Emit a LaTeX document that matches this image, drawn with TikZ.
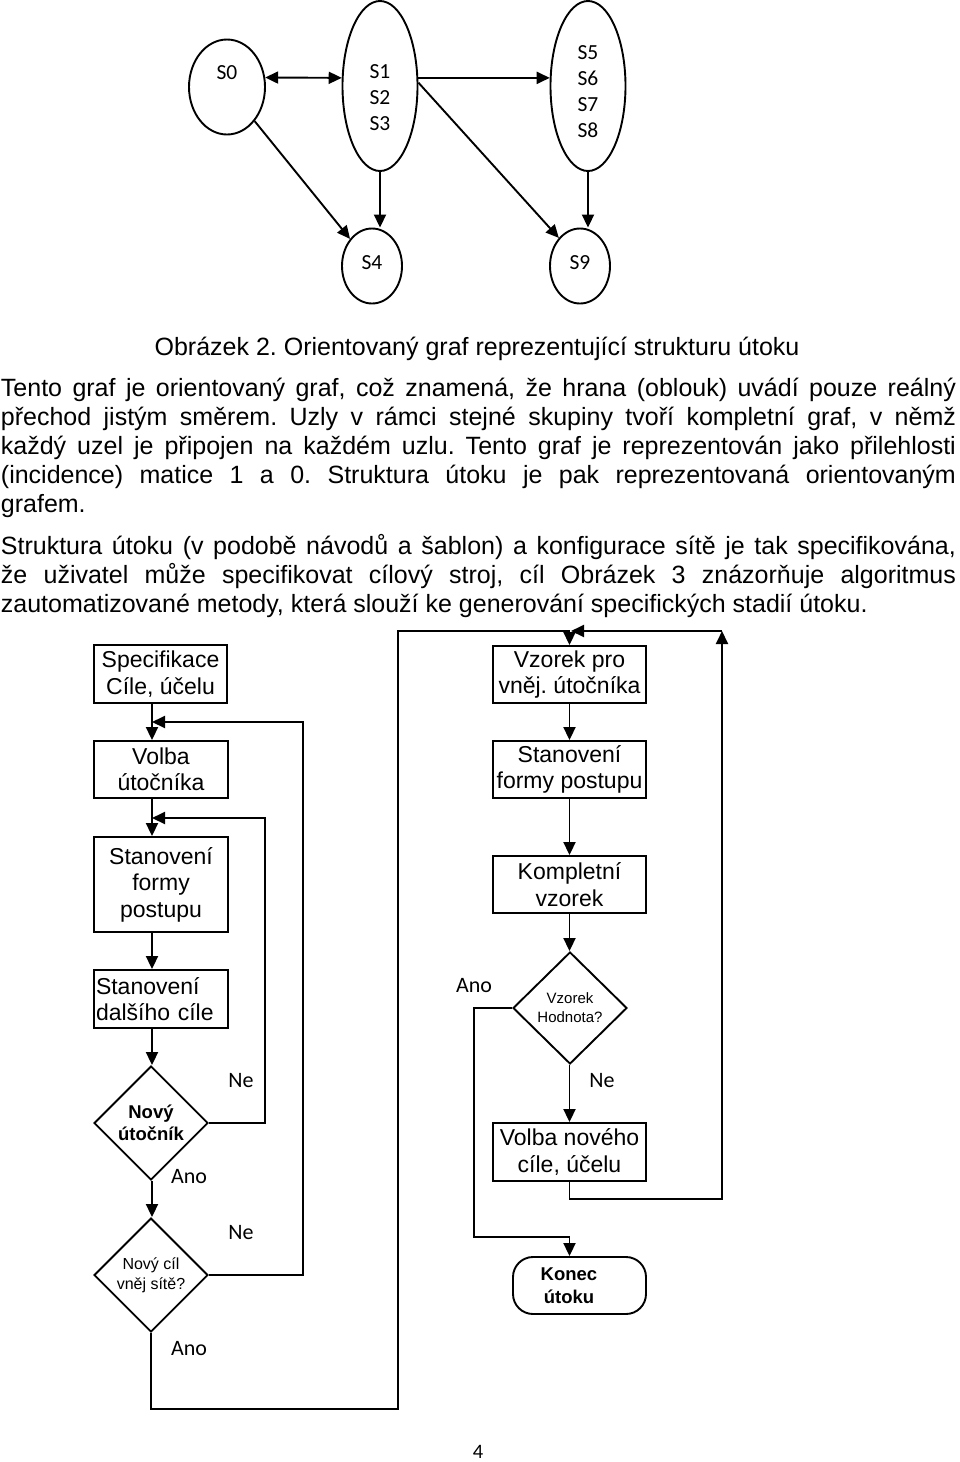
\documentclass[tikz,border=0pt]{standalone}
\usepackage{fontspec}
\setmainfont{Liberation Sans}
\newfontfamily\calib{Carlito}
\usetikzlibrary{arrows.meta,shapes.geometric}
\frenchspacing

\tikzset{
  state/.style={draw, ellipse, inner sep=0pt},
  glabel/.style={font=\calib\fontsize{21.5}{26}\selectfont, align=center, inner sep=0pt},
  box/.style={draw, rectangle, inner sep=2pt, align=center, font=\fontsize{23}{26.5}\selectfont},
  ask/.style={draw, diamond, inner sep=0pt, minimum width=114pt, minimum height=114pt, align=center},
  yesno/.style={font=\calib\fontsize{22}{26}\selectfont, inner sep=0pt},
  line/.style={font=\fontsize{25}{29}\selectfont, anchor=base west, inner sep=0pt}
}

\begin{document}
\begin{tikzpicture}[x=1pt, y=-1pt, line width=1.9pt, >={Triangle[length=13pt,width=12pt]}]
\useasboundingbox (0,0) rectangle (960,1462);

\node (s0) at (227,87) [state, minimum width=76pt, minimum height=95pt, label={[glabel, yshift=14pt]center:S0}] {};
\node (s1) at (380,86) [state, minimum width=75pt, minimum height=170pt, label={[glabel, yshift=-12pt]center:S1\\S2\\S3}] {};
\node (s5) at (588,86) [state, minimum width=75pt, minimum height=170pt, label={[glabel, yshift=-5.5pt]center:S5\\S6\\S7\\S8}] {};
\node (s4) at (372,266) [state, minimum width=60pt, minimum height=75pt, label={[glabel, yshift=3pt]center:S4}] {};
\node (s9) at (580,266) [state, minimum width=60pt, minimum height=75pt, label={[glabel, yshift=3pt]center:S9}] {};

\draw [<->] (s0.14) -- (s1.168);
\draw [->] (s1.12) -- (s5.168);
\draw [->] (s0) -- (s4);
\draw [->] (s1.south) -- (s1.south |- s4.north);
\draw [->] (s1.5) -- (s9.127);
\draw [->] (s5.south) -- (s5.south |- s9.north);

\node (cap) at (477,355) [anchor=base, inner sep=0pt, font=\fontsize{25}{29}\selectfont] {Obrázek 2. Orientovaný graf reprezentující strukturu útoku};

\node (t1) at (0,396) [line] {\makebox[955pt][s]{Tento graf je orientovaný graf, což znamená, že hrana (oblouk) uvádí pouze reálný}};
\node (t2) at (0,425) [line] {\makebox[955pt][s]{přechod jistým směrem. Uzly v rámci stejné skupiny tvoří kompletní graf, v němž}};
\node (t3) at (0,454) [line] {\makebox[955pt][s]{každý uzel je připojen na každém uzlu. Tento graf je reprezentován jako přilehlosti}};
\node (t4) at (0,483) [line] {\makebox[955pt][s]{(incidence) matice 1 a 0. Struktura útoku je pak reprezentovaná orientovaným}};
\node (t5) at (0,512) [line] {grafem.};
\node (t6) at (0,554) [line] {\makebox[955pt][s]{Struktura útoku (v podobě návodů a šablon) a konfigurace sítě je tak specifikována,}};
\node (t7) at (0,583) [line] {\makebox[955pt][s]{že uživatel může specifikovat cílový stroj, cíl Obrázek 3 znázorňuje algoritmus}};
\node (t8) at (0,612) [line] {zautomatizované metody, která slouží ke generování specifických stadií útoku.};

\coordinate (lx) at (152,0);
\coordinate (rx) at (569.5,0);
\coordinate (j1) at (152,818);
\coordinate (j2) at (152,722);
\coordinate (rtop) at (722,631);
\coordinate (j3) at (571,631);

\node (spec) at (160.5,674) [box, minimum width=133pt, minimum height=58pt] {Specifikace\\Cíle, účelu};
\node (volba) at (161,769.5) [box, minimum width=134pt, minimum height=57pt] {Volba\\útočníka};
\node (forma) at (161,884.5) [box, minimum width=134pt, minimum height=95pt] {Stanovení\\formy\\postupu};
\node (dalsi) at (161,999) [box, minimum height=58pt, text width=130pt, align=left] {Stanovení\\dalšího cíle};
\node (novy) at (151,1123) [ask, font=\bfseries\fontsize{18.5}{22}\selectfont] {Nový\\útočník};
\node (cil) at (151,1275) [ask, font=\fontsize{16}{20}\selectfont] {Nový cíl\\vněj sítě?};

\node (vzor) at (569.5,674.5) [box, minimum width=153pt, minimum height=57pt] {Vzorek pro\\vněj. útočníka};
\node (forma2) at (569.5,769.5) [box, minimum width=153pt, minimum height=57pt] {Stanovení\\formy postupu};
\node (kompl) at (569.5,884.5) [box, minimum width=153pt, minimum height=57pt] {Kompletní\\vzorek};
\node (hodn) at (570,1008) [ask, minimum height=112pt, font=\fontsize{15}{19}\selectfont] {Vzorek\\Hodnota?};
\node (nove) at (569.5,1152) [box, minimum width=153pt, minimum height=58pt] {Volba nového\\cíle, účelu};
\node (konec) at (579.5,1285.5) [draw, rounded corners=20pt, minimum width=133pt, minimum height=57pt, align=center, font=\bfseries\fontsize{18.5}{23}\selectfont] {\hspace*{-21pt}Konec\\\hspace*{-21pt}útoku};

\draw [->] (spec.south -| lx) -- (volba.north -| lx);
\draw [->] (volba.south -| lx) -- (forma.north -| lx);
\draw [->] (forma.south -| lx) -- (dalsi.north -| lx);
\draw [->] (dalsi.south -| lx) -- (novy.north -| lx);
\draw [->] (novy.south -| lx) -- (cil.north -| lx);
\draw [->] (novy.east) -| (265,818) -- (j1);
\draw [->] (cil.east) -| (303,722) -- (j2);
\draw [->] (cil.south) |- (398,1409) -- (398,631) -| (vzor.north);

\draw [->] (vzor) -- (forma2);
\draw [->] (forma2) -- (kompl);
\draw [->] (kompl.south -| rx) -- (hodn.north -| rx);
\draw [->] (hodn.south -| rx) -- (nove.north -| rx);
\draw [->] (hodn.west) -| (474,1237) -| (konec.north -| rx);
\draw [->] (nove.south) |- (722,1199) -- (rtop);
\draw [->] (rtop) -- (j3);

\node (ne1) at (241,1081) [yesno] {Ne};
\node (ano1) at (189,1177) [yesno] {Ano};
\node (ne2) at (241,1233) [yesno] {Ne};
\node (ano2) at (189,1348) [yesno] {Ano};
\node (ano3) at (474,986) [yesno] {Ano};
\node (ne3) at (602,1081) [yesno] {Ne};
\node (page) at (478,1458) [anchor=base, inner sep=0pt, font=\calib\fontsize{20.5}{24}\selectfont] {4};
\end{tikzpicture}
\end{document}
